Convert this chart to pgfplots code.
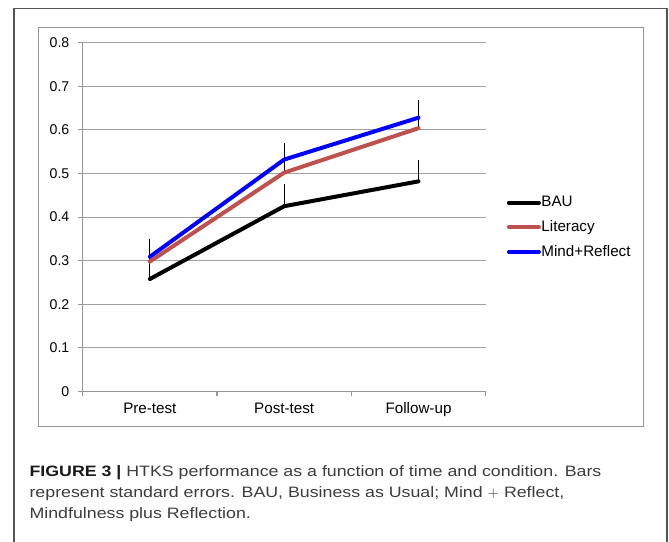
\documentclass[border=0pt]{standalone}
\usepackage{pgfplots}
\pgfplotsset{compat=1.18}
\usepackage{fontspec}
\setmainfont{Liberation Sans}
\newfontfamily\capfont[FakeStretch=1.18]{Liberation Sans}

\definecolor{gridgray}{RGB}{160,160,160}
\definecolor{framegray}{RGB}{150,150,150}
\definecolor{outergray}{RGB}{85,85,85}
\definecolor{litred}{RGB}{192,80,77}
\definecolor{mindblue}{RGB}{0,0,255}
\definecolor{captext}{RGB}{60,60,60}

% 1 unit = 0.75pt, y runs downward
\newcommand\U{0.75pt}

\begin{document}
\begin{tikzpicture}
\useasboundingbox (0,0) rectangle (669*\U,-542*\U);

% outer panel (open at the bottom) and inner chart frame
\draw[outergray, line width=0.9pt] (14*\U,-542*\U) -- (14*\U,-8.7*\U) -- (667*\U,-8.7*\U) -- (667*\U,-542*\U);
\draw[framegray, line width=0.8pt] (38.3*\U,-27.3*\U) rectangle (643.3*\U,-426.7*\U);

\begin{axis}[
  at={(82.7*\U,-391.5*\U)}, anchor=south west,
  scale only axis, width=403*\U, height=348.8*\U,
  xmin=-0.5, xmax=2.5, ymin=0, ymax=0.8,
  axis x line*=bottom, axis y line*=left,
  axis line style={framegray, line width=0.8pt},
  tick align=outside, major tick length=3.5pt,
  tick style={framegray, line width=0.8pt},
  ytick={0,0.1,0.2,0.3,0.4,0.5,0.6,0.7,0.8},
  yticklabels={0,0.1,0.2,0.3,0.4,0.5,0.6,0.7,0.8},
  yticklabel style={font=\fontsize{10.6}{12}\selectfont, xshift=-3pt},
  xtick={-0.5,0.5,1.5,2.5}, xticklabels={},
  extra x ticks={0,1,2},
  extra x tick labels={Pre-test,Post-test,Follow-up},
  extra x tick style={major tick length=0pt,
    xticklabel style={font=\fontsize{11.4}{13}\selectfont, yshift=-5pt}},
  ymajorgrids, grid style={gridgray, line width=0.8pt},
  clip=false,
  legend style={at={(axis description cs:1.052,0.471)}, anchor=west,
    draw=none, fill=none, inner sep=0pt, row sep=7.2pt,
    font=\fontsize{11.4}{13}\selectfont,
    nodes={inner sep=0.4pt, text height=8.5pt, text depth=2pt}},
  legend cell align=left,
  legend image code/.code={\draw[#1, line cap=round] (0pt,0pt) -- (22.5pt,0pt);},
]
% standard-error bars (upper side only)
\pgfplotsset{sebars/.style={draw=none, mark=none, forget plot,
  error bars/.cd, y dir=plus, y explicit, error mark=none,
  error bar style={draw=black, line width=0.6pt}}}
\addplot[sebars]
  coordinates {(0,0.258) +- (0,0.045) (1,0.425) +- (0,0.050) (2,0.482) +- (0,0.050)};
\addplot[sebars]
  coordinates {(0,0.298) +- (0,0.040) (1,0.502) +- (0,0.045) (2,0.604) +- (0,0.040)};
\addplot[sebars]
  coordinates {(0,0.309) +- (0,0.041) (1,0.532) +- (0,0.039) (2,0.628) +- (0,0.040)};

% condition means
\addplot[black, mark=none, line width=3pt, line join=round, line cap=round]
  coordinates {(0,0.258) (1,0.425) (2,0.482)};
\addlegendentry{BAU}
\addplot[litred, mark=none, line width=3pt, line join=round, line cap=round]
  coordinates {(0,0.298) (1,0.502) (2,0.604)};
\addlegendentry{Literacy}
\addplot[mindblue, mark=none, line width=3pt, line join=round, line cap=round]
  coordinates {(0,0.309) (1,0.532) (2,0.628)};
\addlegendentry{Mind+Reflect}
\end{axis}

% figure caption
\begin{scope}[every node/.style={anchor=base west, inner sep=0pt, text=captext,
    font=\capfont\fontsize{11.3}{14}\selectfont}]
\node at (29.3*\U,-476.7*\U)
  {\textbf{\color{black!90}FIGURE 3 |} HTKS performance as a function of time and condition. Bars};
\node at (29.3*\U,-497.5*\U)
  {represent standard errors. BAU, Business as Usual; Mind $+$ Reflect,};
\node at (29.3*\U,-518.5*\U)
  {Mindfulness plus Reflection.};
\end{scope}
\end{tikzpicture}
\end{document}
